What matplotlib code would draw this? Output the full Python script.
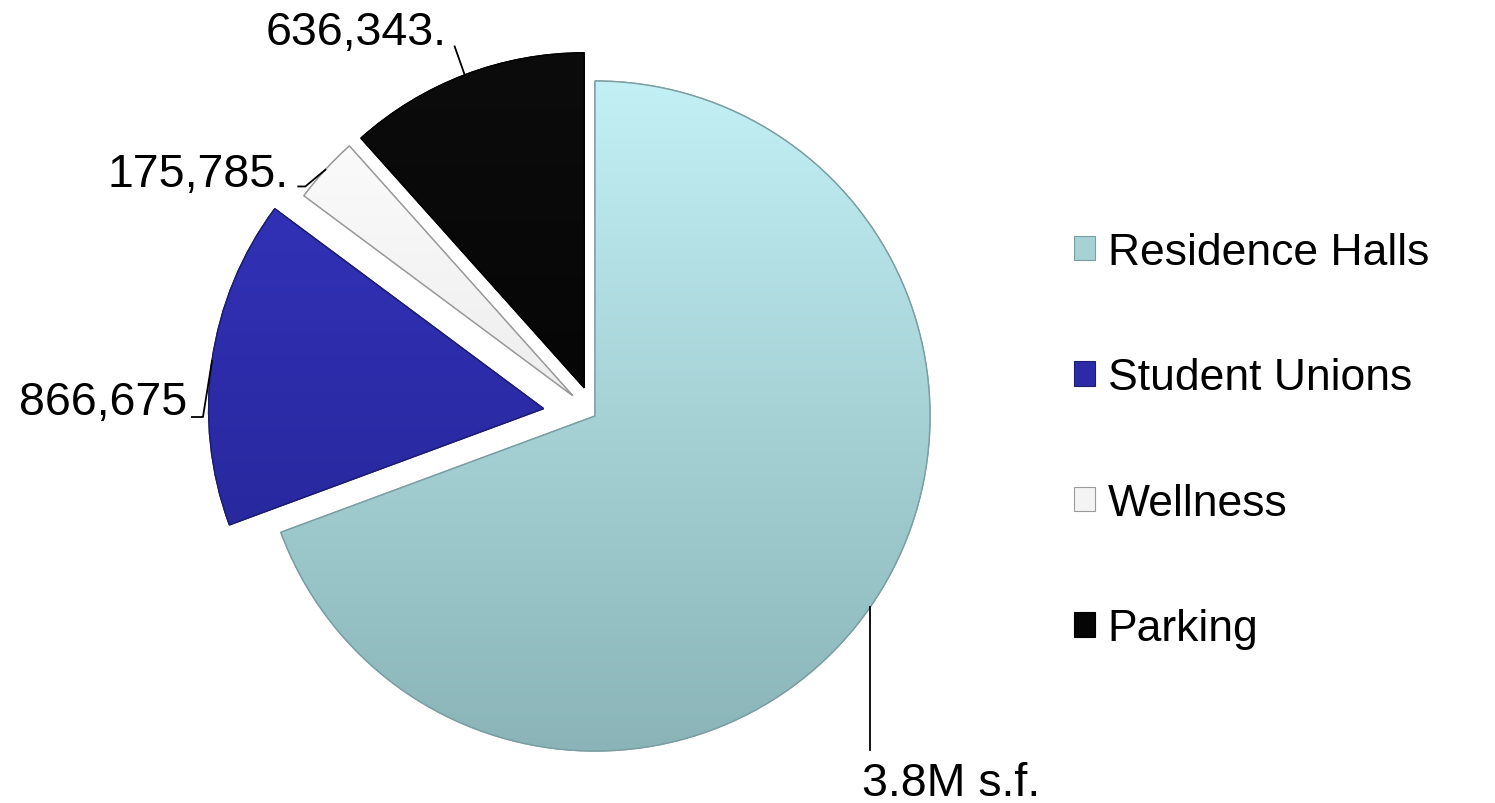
import matplotlib.pyplot as plt
import numpy as np
from matplotlib.colors import LinearSegmentedColormap
from matplotlib.patches import Patch, Wedge

plt.rcParams['font.family'] = ['Liberation Sans', 'DejaVu Sans']

categories = ['Residence Halls', 'Student Unions', 'Wellness', 'Parking']
values = [3800000, 866675, 175785, 636343]
labels = ['3.8M s.f.', '866,675', '175,785.', '636,343.']
explode = [0.0, 0.155, 0.09, 0.09]

# top / bottom colours of each slice gradient
top_colors = ['#c2f0f4', '#3535c0', '#ffffff', '#0c0c0c']
bot_colors = ['#8ab4b8', '#22228f', '#dcdcdc', '#000000']
base_colors = ['#acd8dc', '#2b2ba8', '#f4f4f4', '#050505']
edge_colors = ['#7a9ea2', '#1c1c70', '#9a9a9a', '#000000']

fig = plt.figure(figsize=(14.95, 8.04), dpi=100)
ax = fig.add_axes([0, 0, 1, 1])

wedges, _ = ax.pie(values, colors=base_colors, startangle=90, counterclock=False,
                   explode=explode, radius=1.0,
                   wedgeprops=dict(linewidth=1.0))

grad = np.linspace(0, 1, 256).reshape(-1, 1)
for w, c_top, c_bot, ec in zip(wedges, top_colors, bot_colors, edge_colors):
    w.set_edgecolor(ec)
    cmap = LinearSegmentedColormap.from_list('g', [c_bot, c_top])
    cx, cy = w.center
    im = ax.imshow(grad, cmap=cmap, origin='lower', aspect='auto',
                   extent=[cx - 1, cx + 1, cy - 1, cy + 1], zorder=w.get_zorder() + 0.1)
    im.set_clip_path(w)
    # redraw edge on top of the gradient
    ax.add_patch(Wedge(w.center, w.r, w.theta1, w.theta2, facecolor='none',
                       edgecolor=ec, linewidth=1.0, zorder=w.get_zorder() + 0.2))

# label layout: (text x, baseline y, ha, elbow offsets relative to anchor)
label_layout = {
    'Residence Halls': (0.797, -1.130, 'left', [(0.0, -0.427)]),
    'Student Unions': (-1.218, 0.006, 'right', [(-0.027, -0.167), (-0.060, -0.167)]),
    'Wellness': (-0.916, 0.687, 'right', [(-0.060, -0.050), (-0.081, -0.050)]),
    'Parking': (-0.442, 1.110, 'right', [(-0.030, 0.085)]),
}

for w, cat, lab in zip(wedges, categories, labels):
    tx, ty, ha, elbows = label_layout[cat]
    mid = np.deg2rad((w.theta1 + w.theta2) / 2)
    px, py = w.center[0] + w.r * np.cos(mid), w.center[1] + w.r * np.sin(mid)
    xs = [px] + [px + dx for dx, dy in elbows]
    ys = [py] + [py + dy for dx, dy in elbows]
    ax.plot(xs, ys, color='black', lw=1.3, zorder=10)
    ax.text(tx, ty, lab, ha=ha, va='baseline', fontsize=33.5, color='black')

handles = [Patch(facecolor=b, edgecolor=e, linewidth=0.8) for b, e in zip(base_colors, edge_colors)]
handles[0].set_facecolor('#a6d2d6')
fig.legend(handles, categories, loc='center left', bbox_to_anchor=(1074 / 1495, 1 - 441.5 / 804),
           bbox_transform=fig.transFigure, frameon=False, fontsize=32,
           handlelength=0.48, handleheight=0.48, handletextpad=0.28,
           labelspacing=1.9, borderpad=0, borderaxespad=0)

ax.set_xlim(-595 / 335, (1495 - 595) / 335)
ax.set_ylim(-(804 - 417) / 335, 417 / 335)
ax.set_aspect('auto')
ax.axis('off')

fig.savefig('out.png', dpi=100)
